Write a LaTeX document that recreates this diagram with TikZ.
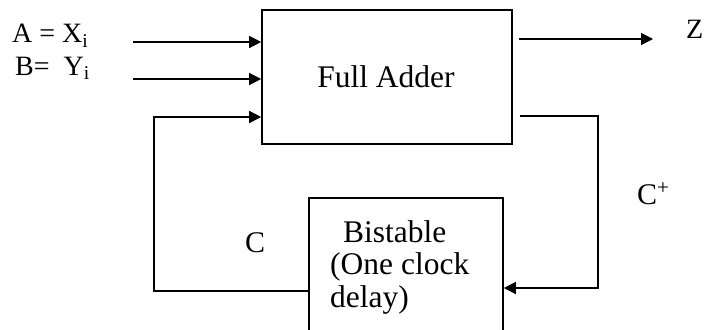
\documentclass[tikz,border=0pt]{standalone}
\usepackage{fontspec}
\setmainfont{Liberation Serif}
\usetikzlibrary{arrows.meta}
\begin{document}
\begin{tikzpicture}[x=1pt,y=-1pt,
  blk/.style={draw,line width=1.6pt,inner sep=0pt},
  wire/.style={line width=1.3pt},
  arr/.style={wire,-{Triangle[length=12pt,width=12pt]}},
  big/.style={font=\fontsize{31.5}{33}\selectfont,inner sep=0pt},
  lbl/.style={font=\fontsize{28}{30}\selectfont,inner sep=0pt,anchor=base west}]
\useasboundingbox (0,0) rectangle (708,329);
\clip (0,0) rectangle (708,329);
% blocks
\node[blk,minimum width=250pt,minimum height=134pt] (fa) at (387,77) {};
\node[big] (fatext) at (386,77) {Full Adder};
\node[blk,minimum width=194pt,minimum height=162pt] (bs) at (406,279) {};
\node[big,anchor=base west] (bs1) at (343,242) {Bistable};
\node[big,anchor=base west] (bs2) at (330,274) {(One clock};
\node[big,anchor=base west] (bs3) at (330,307) {delay)};
% labels
\node[lbl] (la) at (12,43) {A = X\textsubscript{i}};
\node[lbl] (lb) at (15,75) {B=\ \ Y\textsubscript{i}};
\node[lbl] (lz) at (686,39) {Z};
\node[lbl,font=\fontsize{30}{32}\selectfont] (lc) at (245,252) {C};
\node[lbl,font=\fontsize{30}{32}\selectfont] (lcp) at (637,204) {C\textsuperscript{+}};
% wire end points
\coordinate (ain) at (133,42);
\coordinate (bin) at (133,79);
\coordinate (zout) at (519,39);
\coordinate (zend) at (653,39);
\coordinate (cpout) at (520,116);
\coordinate (rcor) at (598,116);
\coordinate (lcor) at (154,291);
\coordinate (cin) at (154,117);
% connectors
\draw[arr] (ain) -- (ain -| fa.west);
\draw[arr] (bin) -- (bin -| fa.west);
\draw[arr] (zout) -- (zend);
\draw[arr] (cpout) -- (rcor) -- (rcor |- 0,288) -- (bs.east |- 0,288);
\draw[arr] (bs.west |- lcor) -- (lcor) -- (cin) -- (cin -| fa.west);
\end{tikzpicture}
\end{document}
